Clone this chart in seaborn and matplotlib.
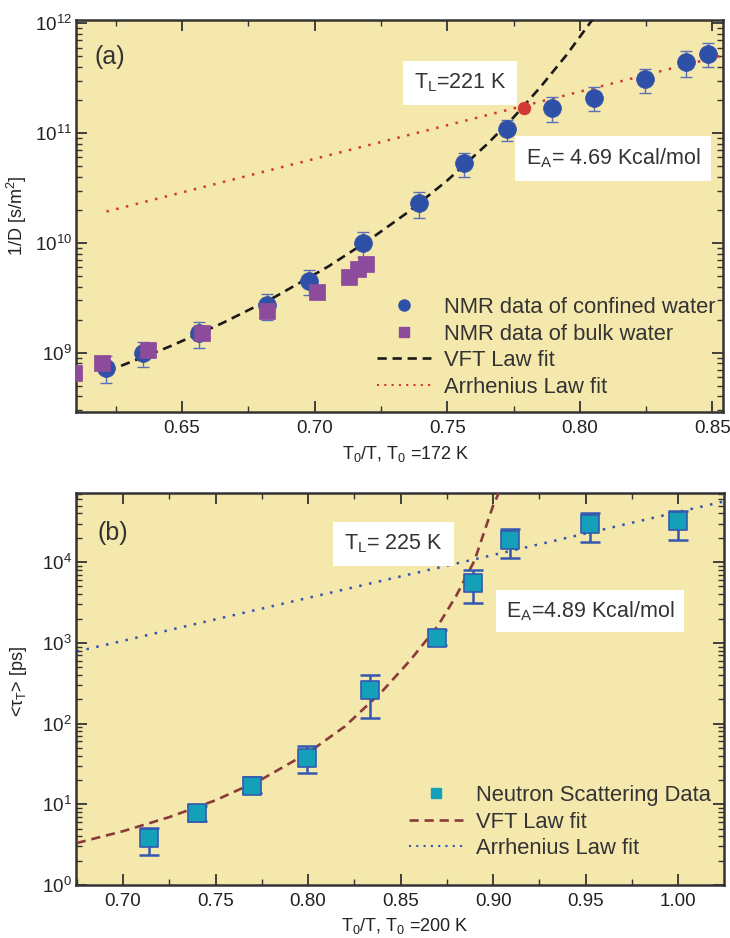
import numpy as np
import pandas as pd
import matplotlib
matplotlib.use("Agg")
import matplotlib.pyplot as plt
import seaborn as sns
from matplotlib.lines import Line2D
from matplotlib.ticker import LogLocator, LogFormatterMathtext, NullFormatter, MultipleLocator, FormatStrFormatter

# ---------------- data: panel (a) ----------------
conf_x = [0.6214, 0.6353, 0.6564, 0.682, 0.6978, 0.7184, 0.7395, 0.7564, 0.7726, 0.7895, 0.8053, 0.8245, 0.8399, 0.8485]
conf_y = [7.3e8, 1.0e9, 1.5e9, 2.7e9, 4.5e9, 1.0e10, 2.3e10, 5.3e10, 1.09e11, 1.69e11, 2.1e11, 3.1e11, 4.4e11, 5.3e11]
conf_rel_err = [0.27, 0.26, 0.26, 0.26, 0.26, 0.26, 0.26, 0.25, 0.22, 0.26, 0.25, 0.25, 0.26, 0.25]

bulk_x = [0.6093, 0.6199, 0.6372, 0.6575, 0.682, 0.7008, 0.7128, 0.7163, 0.7192]
bulk_y = [6.6e8, 8.1e8, 1.05e9, 1.5e9, 2.4e9, 3.6e9, 4.9e9, 5.8e9, 6.4e9]

vft_a_x = [0.627, 0.645, 0.665, 0.685, 0.705, 0.720, 0.735, 0.750, 0.765, 0.775, 0.785, 0.795, 0.805, 0.810]
vft_a_y = [7.6e8, 1.13e9, 1.85e9, 3.22e9, 6.07e9, 1.04e10, 1.89e10, 3.70e10, 7.91e10, 1.39e11, 2.60e11, 5.15e11, 1.10e12, 1.65e12]

arr_a_x = [0.6215, 0.854]
arr_a_y = [1.93e10, 5.1e11]

tl_a_x = [0.7791]
tl_a_y = [1.68e11]

# ---------------- data: panel (b) ----------------
ns_x = [0.714, 0.7398, 0.7695, 0.7997, 0.8334, 0.8695, 0.8889, 0.9094, 0.9525, 1.0]
ns_y = [3.83, 7.8, 17.0, 37.6, 257, 1160, 5580, 19000, 29300, 31900]
ns_lo = [2.36, 6.26, 13.9, 24.3, 116, 930, 3130, 11100, 17650, 19050]
ns_hi = [5.05, 9.55, 21.7, 52, 394, 1460, 8090, 25900, 40100, 42800]

vft_b_x = [0.675, 0.70, 0.725, 0.75, 0.775, 0.80, 0.82, 0.84, 0.855, 0.87, 0.88, 0.89, 0.90, 0.905]
vft_b_y = [3.31, 4.64, 6.93, 11.2, 20.4, 43.4, 92.5, 250, 600, 1600, 3800, 10500, 50000, 90000]

arr_b_x = [0.675, 1.025]
arr_b_y = [780, 56600]

# ---------------- styling ----------------
sns.set_style("ticks")
plt.rcParams['font.family'] = ['Liberation Sans', 'DejaVu Sans']
plt.rcParams['mathtext.fontset'] = 'custom'
plt.rcParams['mathtext.rm'] = 'Liberation Sans'
plt.rcParams['mathtext.it'] = 'Liberation Sans:italic'
plt.rcParams['mathtext.bf'] = 'Liberation Sans:bold'

BG = '#f5e8ad'
DARK = '#333333'
BLUE = '#2e50a6'
BLUE_ERR = '#5b6fb8'
PURPLE = '#8c4b9b'
RED = '#d03a34'
CYAN = '#14a0b9'
CYAN_EDGE = '#3458b0'
BROWN = '#8b3a3a'
ARR_B = '#3354b0'

fig = plt.figure(figsize=(7.3, 9.38), dpi=100)
fig.patch.set_facecolor('white')
axa = fig.add_axes([76 / 730, 1 - 412 / 938, (723 - 76) / 730, 392 / 938])
axb = fig.add_axes([76 / 730, 1 - 885 / 938, (724 - 76) / 730, 392 / 938])


def style(ax):
    ax.set_facecolor(BG)
    ax.set_yscale('log')
    for s in ax.spines.values():
        s.set_color(DARK)
        s.set_linewidth(1.8)
    ax.tick_params(which='both', direction='in', top=True, right=True,
                   colors=DARK, labelcolor='#222222', labelsize=13.5)
    ax.tick_params(which='major', length=8, width=1.3)
    ax.tick_params(which='minor', length=4.5, width=1.0)
    ax.tick_params(axis='x', which='both', pad=6)
    ax.tick_params(axis='y', which='both', pad=3)
    ax.yaxis.set_major_locator(LogLocator(base=10, numticks=20))
    ax.yaxis.set_minor_locator(LogLocator(base=10, subs=np.arange(2, 10), numticks=20))
    ax.yaxis.set_major_formatter(LogFormatterMathtext())
    ax.yaxis.set_minor_formatter(NullFormatter())
    ax.xaxis.set_major_locator(MultipleLocator(0.05))
    ax.xaxis.set_minor_locator(MultipleLocator(0.025))
    ax.xaxis.set_major_formatter(FormatStrFormatter('%.2f'))


# ---------------- panel (a) ----------------
style(axa)
sns.lineplot(x=arr_a_x, y=arr_a_y, ax=axa, color=RED, lw=1.8,
             linestyle=(0, (1, 3)), legend=False, zorder=2)
sns.lineplot(x=vft_a_x, y=vft_a_y, ax=axa, color='#1a1a1a', lw=1.9,
             linestyle=(0, (3.5, 2.2)), legend=False, zorder=3, sort=False)
conf_err = [r * y for r, y in zip(conf_rel_err, conf_y)]
axa.errorbar(conf_x, conf_y, yerr=conf_err, fmt='none', ecolor=BLUE_ERR,
             elinewidth=1.0, capsize=4, capthick=1.0, zorder=4)
sns.scatterplot(x=conf_x, y=conf_y, ax=axa, marker='o', s=165, color=BLUE,
                edgecolor=BLUE, linewidth=0.5, zorder=5, legend=False)
sns.scatterplot(x=bulk_x, y=bulk_y, ax=axa, marker='s', s=140, color=PURPLE,
                edgecolor=PURPLE, linewidth=0.5, zorder=6, legend=False)
sns.scatterplot(x=tl_a_x, y=tl_a_y, ax=axa, marker='o', s=80, color=RED,
                edgecolor=RED, zorder=7, legend=False)

axa.set_xlim(0.61, 0.854)
axa.set_ylim(10 ** 8.46, 10 ** 12.03)
axa.set_xlabel('T$_0$/T, T$_0$ =172 K', fontsize=13, color='#222222')
axa.set_ylabel('1/D [s/m$^2$]', fontsize=13, color='#222222')
axa.xaxis.set_label_coords(0.51, -0.082)
axa.yaxis.set_label_coords(-0.072, 0.5)

axa.text(0.0526, 0.906, '(a)', transform=axa.transAxes, fontsize=18,
         color='#333333', ha='center', va='center')
box = dict(boxstyle='square,pad=0.5', facecolor='white', edgecolor='none')
axa.text(0.5935, 0.839, 'T$_{\\mathrm{L}}$=221 K', transform=axa.transAxes,
         fontsize=15.5, color='#333333', ha='center', va='center', bbox=box, zorder=8)
axa.text(0.83, 0.647, 'E$_{\\mathrm{A}}$= 4.69 Kcal/mol', transform=axa.transAxes,
         fontsize=15.5, color='#333333', ha='center', va='center',
         bbox=dict(boxstyle='square,pad=0.5', facecolor='white', edgecolor='none'), zorder=8)

handles_a = [
    Line2D([], [], marker='o', linestyle='none', color=BLUE, markersize=8),
    Line2D([], [], marker='s', linestyle='none', color=PURPLE, markersize=7),
    Line2D([], [], color='#1a1a1a', lw=1.9, linestyle=(0, (3.5, 2.2))),
    Line2D([], [], color=RED, lw=1.5, linestyle=(0, (1, 2.5))),
]
labels_a = ['NMR data of confined water', 'NMR data of bulk water',
            'VFT Law fit', 'Arrhenius Law fit']
axa.legend(handles_a, labels_a, loc='upper left', bbox_to_anchor=(0.465, 0.293),
           frameon=False, fontsize=15.8, borderpad=0, borderaxespad=0,
           handlelength=2.45, handletextpad=0.6, labelspacing=0.25,
           labelcolor='#333333')

# ---------------- panel (b) ----------------
style(axb)
sns.lineplot(x=arr_b_x, y=arr_b_y, ax=axb, color=ARR_B, lw=1.8,
             linestyle=(0, (1, 3)), legend=False, zorder=2)
sns.lineplot(x=vft_b_x, y=vft_b_y, ax=axb, color=BROWN, lw=1.9,
             linestyle=(0, (3.5, 2.2)), legend=False, zorder=3, sort=False)
yerr_b = [[y - lo for y, lo in zip(ns_y, ns_lo)], [hi - y for y, hi in zip(ns_y, ns_hi)]]
axb.errorbar(ns_x, ns_y, yerr=yerr_b, fmt='none', ecolor=CYAN_EDGE,
             elinewidth=1.8, capsize=7, capthick=1.8, zorder=4)
sns.scatterplot(x=ns_x, y=ns_y, ax=axb, marker='s', s=150, color=CYAN,
                edgecolor=CYAN_EDGE, linewidth=1.2, zorder=5, legend=False)

axb.set_xlim(0.6746, 1.0248)
axb.set_ylim(1, 10 ** 4.856)
axb.set_xlabel('T$_0$/T, T$_0$ =200 K', fontsize=13, color='#222222')
axb.set_ylabel('<τ$_{\\mathrm{T}}$> [ps]', fontsize=13, color='#222222')
axb.xaxis.set_label_coords(0.508, -0.08)
axb.yaxis.set_label_coords(-0.072, 0.52)

axb.text(0.057, 0.898, '(b)', transform=axb.transAxes, fontsize=18,
         color='#333333', ha='center', va='center')
axb.text(0.49, 0.870, 'T$_{\\mathrm{L}}$= 225 K', transform=axb.transAxes,
         fontsize=15.5, color='#333333', ha='center', va='center', bbox=box, zorder=8)
axb.text(0.793, 0.699, 'E$_{\\mathrm{A}}$=4.89 Kcal/mol', transform=axb.transAxes,
         fontsize=15.5, color='#333333', ha='center', va='center',
         bbox=dict(boxstyle='square,pad=0.45', facecolor='white', edgecolor='none'), zorder=8)

handles_b = [
    Line2D([], [], marker='s', linestyle='none', color=CYAN, markersize=7),
    Line2D([], [], color=BROWN, lw=1.9, linestyle=(0, (3.5, 2.2))),
    Line2D([], [], color=ARR_B, lw=1.5, linestyle=(0, (1, 2.5))),
]
labels_b = ['Neutron Scattering Data', 'VFT Law fit', 'Arrhenius Law fit']
axb.legend(handles_b, labels_b, loc='upper left', bbox_to_anchor=(0.514, 0.255),
           frameon=False, fontsize=15.8, borderpad=0, borderaxespad=0,
           handlelength=2.45, handletextpad=0.6, labelspacing=0.25,
           labelcolor='#333333')

fig.savefig('out.png', dpi=100)
